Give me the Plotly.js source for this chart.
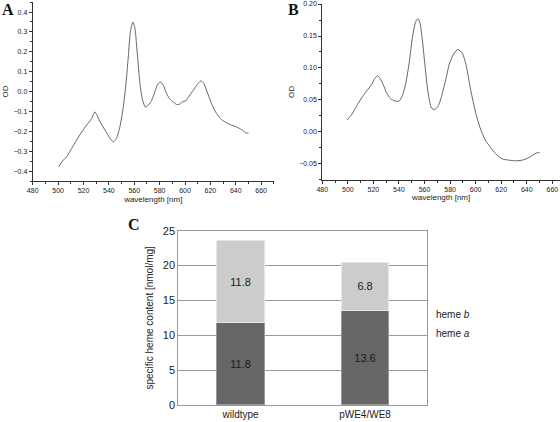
<!DOCTYPE html>
<html><head><meta charset="utf-8">
<script src="https://cdn.plot.ly/plotly-3.0.1.min.js"></script>
<style>html,body{margin:0;padding:0;background:#fff}#chart{width:560px;height:422px}</style>
</head><body><div id="chart"></div>
<script>
// Panel A spectrum
const wlA = [500.5,504,506.8,510.7,514.6,518.6,522.5,526.4,529,533,537,541,543.5,546,548.7,551.4,553.5,555.3,557.1,559,560.6,562.4,564.5,566.6,568.7,571,573.7,575.8,578.1,580.5,582.9,585.5,588.1,590.7,593.4,595.2,597.8,600.4,603.3,606.5,609.6,612.5,614.9,617.5,620.9,624.8,628.8,632.7,636.7,639.3,641.9,645.3,647.9,650];
const odA = [-0.378,-0.345,-0.328,-0.286,-0.244,-0.203,-0.169,-0.136,-0.102,-0.152,-0.194,-0.236,-0.253,-0.236,-0.177,-0.077,0.040,0.174,0.308,0.35,0.316,0.191,0.040,-0.044,-0.077,-0.069,-0.044,-0.010,0.032,0.049,0.032,-0.010,-0.038,-0.052,-0.065,-0.065,-0.052,-0.047,-0.023,0.007,0.035,0.054,0.040,-0.002,-0.060,-0.110,-0.141,-0.157,-0.169,-0.174,-0.182,-0.194,-0.208,-0.208];
// Panel B spectrum
const wlB = [499.5,502.9,506.8,510.7,514.6,518.6,521.2,523.2,525.1,527.7,530.3,533.4,536.3,540,542.9,545.4,548,550.6,553.2,555,556.5,558.3,560.4,562.8,565.4,568,570.6,573.4,576.6,579.7,583.1,586.2,589.6,592.7,596.1,600,603.9,607.3,610.9,615.6,620.8,626,631.3,636.5,641.7,647.4,650];
const odB = [0.019,0.027,0.040,0.053,0.064,0.074,0.084,0.088,0.084,0.074,0.061,0.052,0.049,0.048,0.058,0.077,0.108,0.149,0.173,0.177,0.170,0.144,0.103,0.061,0.0375,0.035,0.040,0.056,0.082,0.108,0.123,0.129,0.123,0.103,0.066,0.030,0.004,-0.012,-0.022,-0.034,-0.042,-0.044,-0.045,-0.044,-0.040,-0.033,-0.032];
// Panel C heme content
const strains = ['wildtype','pWE4/WE8'];
const hemeA = [11.8,13.6];
const hemeB = [11.8,6.8];
const hemeAName = 'heme <i>a</i>';
const hemeBName = 'heme <i>b</i>';

const tickFont = {family:'Liberation Sans, Arial, sans-serif', size:7, color:'#222'};
const titleFont = {family:'Liberation Sans, Arial, sans-serif', size:8, color:'#222'};
const cFont = {family:'Liberation Sans, Arial, sans-serif', size:10, color:'#222'};

function specX(dom, range){
  return {domain:dom, range:range, showgrid:false, zeroline:false, showline:true, linecolor:'#333', linewidth:1,
    ticks:'outside', ticklen:3, tickcolor:'#333', dtick:20, tick0:480, tickfont:tickFont,
    minor:{ticks:'outside', ticklen:2, dtick:10, tickcolor:'#333'},
    title:{text:'wavelength [nm]', font:titleFont, standoff:2}};
}
function specY(dom, range, dtick, fmt, anchor){
  return {domain:dom, range:range, showgrid:false, zeroline:false, showline:true, linecolor:'#333', linewidth:1,
    ticks:'outside', ticklen:3, tickcolor:'#333', dtick:dtick, tick0:0, tickformat:fmt, tickfont:tickFont,
    minor:{ticks:'outside', ticklen:2, dtick:dtick/2, tickcolor:'#333'},
    title:{text:'OD', font:titleFont, standoff:3}, anchor:anchor};
}

const data = [
  {x:wlA, y:odA, xaxis:'x', yaxis:'y', type:'scatter', mode:'lines', line:{color:'#555', width:0.9, shape:'spline', smoothing:0.6}, showlegend:false, hoverinfo:'skip'},
  {x:wlB, y:odB, xaxis:'x2', yaxis:'y2', type:'scatter', mode:'lines', line:{color:'#555', width:0.9, shape:'spline', smoothing:0.6}, showlegend:false, hoverinfo:'skip'},
  {x:strains, y:hemeA, xaxis:'x3', yaxis:'y3', type:'bar', name:hemeAName, width:0.383,
   marker:{color:'#666666', line:{color:'#999', width:1}}, text:hemeA.map(v=>v.toFixed(1)), textposition:'inside', insidetextanchor:'middle',
   textfont:{family:'Liberation Sans, Arial, sans-serif', size:11, color:'#1a1a1a'}, showlegend:false, hoverinfo:'skip'},
  {x:strains, y:hemeB, xaxis:'x3', yaxis:'y3', type:'bar', name:hemeBName, width:0.383,
   marker:{color:'#cccccc', line:{color:'#e6e6e6', width:1}}, text:hemeB.map(v=>v.toFixed(1)), textposition:'inside', insidetextanchor:'middle',
   textfont:{family:'Liberation Sans, Arial, sans-serif', size:11, color:'#1a1a1a'}, showlegend:false, hoverinfo:'skip'}
];

const layout = {
  width:560, height:422, margin:{l:0,r:0,t:0,b:0}, paper_bgcolor:'#fff', plot_bgcolor:'rgba(0,0,0,0)',
  barmode:'stack', showlegend:false,
  xaxis: specX([0.0584,0.489],[480,670]),
  yaxis: specY([0.571,0.995],[-0.45,0.45],0.1,'.1f','x'),
  xaxis2: Object.assign(specX([0.5755,1.0],[480,666]),{anchor:'y2'}),
  yaxis2: specY([0.5735,0.9905],[-0.075,0.2],0.05,'.2f','x2'),
  xaxis3:{domain:[0.3184,0.763], anchor:'y3', showline:true, mirror:true, linecolor:'#999', linewidth:1,
    ticks:'', tickfont:cFont, showgrid:false},
  yaxis3:{domain:[0.0403,0.4533], anchor:'x3', range:[0,25], dtick:5, showline:true, mirror:true, linecolor:'#999', linewidth:1,
    showgrid:true, gridcolor:'#999', gridwidth:1, zeroline:false, ticks:'', tickfont:{family:'Liberation Sans, Arial, sans-serif', size:11, color:'#222'},
    title:{text:'specific heme content [nmol/mg]', font:{family:'Liberation Sans, Arial, sans-serif', size:10, color:'#222'}, standoff:7}},
  annotations:[
    {text:'<b>A</b>', xref:'paper', yref:'paper', x:8/560, y:1-9/422, xanchor:'center', yanchor:'middle', showarrow:false, font:{family:'Liberation Serif, Times New Roman, serif', size:16, color:'#111'}},
    {text:'<b>B</b>', xref:'paper', yref:'paper', x:293/560, y:1-9/422, xanchor:'center', yanchor:'middle', showarrow:false, font:{family:'Liberation Serif, Times New Roman, serif', size:16, color:'#111'}},
    {text:'<b>C</b>', xref:'paper', yref:'paper', x:134/560, y:1-224/422, xanchor:'center', yanchor:'middle', showarrow:false, font:{family:'Liberation Serif, Times New Roman, serif', size:16, color:'#111'}},
    {text:hemeBName, xref:'paper', yref:'paper', x:434/560, y:1-314/422, xanchor:'left', yanchor:'middle', showarrow:false, font:{family:'Liberation Sans, Arial, sans-serif', size:10, color:'#222'}},
    {text:hemeAName, xref:'paper', yref:'paper', x:434/560, y:1-333/422, xanchor:'left', yanchor:'middle', showarrow:false, font:{family:'Liberation Sans, Arial, sans-serif', size:10, color:'#222'}}
  ]
};
Plotly.newPlot('chart', data, layout, {staticPlot:true, displayModeBar:false});
</script></body></html>
